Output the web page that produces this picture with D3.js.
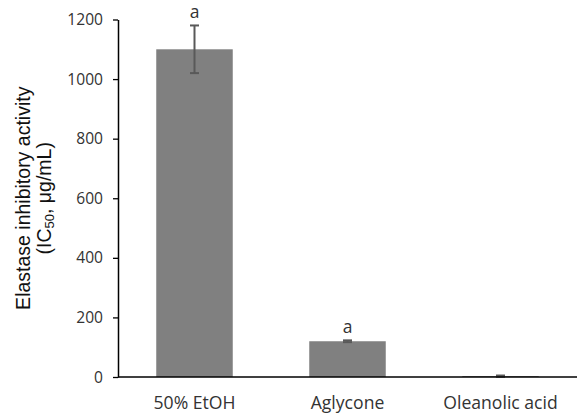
<!DOCTYPE html>
<html>
<head>
<meta charset="utf-8">
<script src="https://cdn.jsdelivr.net/npm/d3@7"></script>
<style>
  html, body { margin: 0; padding: 0; background: #fff; }
  svg { display: block; }
</style>
</head>
<body>
<svg id="chart" width="581" height="414"></svg>
<script>
// IC50 values for elastase inhibition
const categories = ["50% EtOH", "Aglycone", "Oleanolic acid"];
const values = [1100, 120, 3];
const errors = [80, 3, 2];
const letters = ["a", "a", ""];
const yTicks = [0, 200, 400, 600, 800, 1000, 1200];

const svg = d3.select("#chart");
const margin = { left: 118, right: 4, top: 19.5, bottom: 37 };
const W = 581, H = 414;
const labelFont = "'Open Sans', sans-serif";

const x = d3.scaleBand()
  .domain(categories)
  .range([margin.left, W - margin.right])
  .paddingInner(0.5)
  .paddingOuter(0.25);

const y = d3.scaleLinear()
  .domain([0, 1200])
  .range([H - margin.bottom, margin.top]);

// bars
svg.selectAll("rect.bar")
  .data(values)
  .join("rect")
  .attr("class", "bar")
  .attr("x", (d, i) => x(categories[i]))
  .attr("width", x.bandwidth())
  .attr("y", d => y(d))
  .attr("height", d => y(0) - y(d))
  .attr("fill", "#808080");

// error bars
const eb = svg.append("g").attr("stroke", "#595959").attr("stroke-width", 2);
values.forEach((v, i) => {
  const cx = x(categories[i]) + x.bandwidth() / 2;
  const cap = 4.5;
  const hi = y(v + errors[i]), lo = y(v - errors[i]);
  eb.append("line").attr("x1", cx).attr("x2", cx).attr("y1", hi).attr("y2", lo);
  eb.append("line").attr("x1", cx - cap).attr("x2", cx + cap).attr("y1", hi).attr("y2", hi);
  eb.append("line").attr("x1", cx - cap).attr("x2", cx + cap).attr("y1", lo).attr("y2", lo);
});

// significance letters
svg.selectAll("text.letter")
  .data(letters)
  .join("text")
  .attr("class", "letter")
  .attr("x", (d, i) => x(categories[i]) + x.bandwidth() / 2)
  .attr("y", (d, i) => y(values[i] + errors[i]) - 7.5)
  .attr("text-anchor", "middle")
  .attr("font-family", labelFont)
  .attr("font-size", 17.5)
  .attr("fill", "#333")
  .text(d => d);

// y axis
const yAxis = svg.append("g")
  .attr("transform", `translate(${margin.left},0)`)
  .call(d3.axisLeft(y).tickValues(yTicks).tickFormat(d3.format("d"))
    .tickSize(5).tickSizeOuter(0).tickPadding(10));
yAxis.select(".domain").attr("stroke", "#000").attr("stroke-width", 1.5);
yAxis.selectAll(".tick line").attr("stroke", "#000").attr("stroke-width", 1.3);
yAxis.selectAll(".tick text")
  .attr("font-family", labelFont)
  .attr("font-size", 15.6)
  .attr("fill", "#333");

// x axis
const xAxis = svg.append("g")
  .attr("transform", `translate(0,${y(0)})`)
  .call(d3.axisBottom(x).tickSize(0));
xAxis.select(".domain").attr("stroke", "#000").attr("stroke-width", 1.5)
  .attr("d", `M${margin.left},0H${W - margin.right}`);
xAxis.selectAll(".tick text")
  .attr("y", 32)
  .attr("dy", null)
  .attr("font-family", labelFont)
  .attr("font-size", 17.6)
  .attr("fill", "#333");

// y axis title
const title = svg.append("text")
  .attr("transform", `translate(30,${(y(0) + y(1200)) / 2}) rotate(-90)`)
  .attr("text-anchor", "middle")
  .attr("font-family", "'Liberation Sans', Arial, sans-serif")
  .attr("font-size", 19.5)
  .attr("fill", "#111");
title.append("tspan").attr("x", 0).attr("dy", 0).text("Elastase inhibitory activity");
const l2 = title.append("tspan").attr("x", 0).attr("dy", 21);
l2.append("tspan").text("(IC");
l2.append("tspan").attr("font-size", 13).attr("dy", 3).text("50");
l2.append("tspan").attr("dy", -3).text(", μg/mL)");
</script>
</body>
</html>
